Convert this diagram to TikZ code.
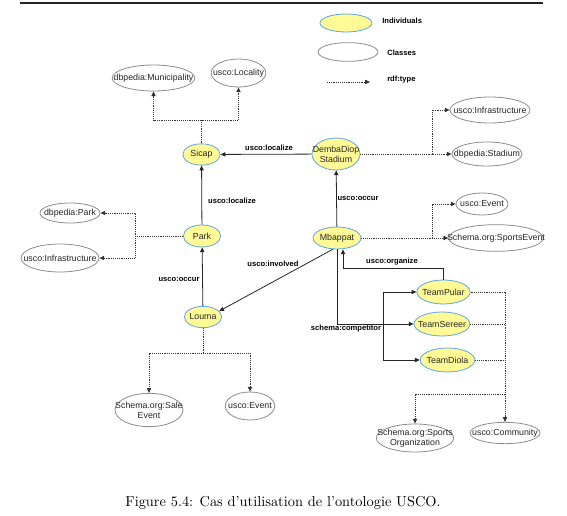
\documentclass[tikz,border=0pt]{standalone}
\usepackage{fontspec}
\newfontfamily\diagfont{Liberation Sans}
\usetikzlibrary{shapes.geometric,arrows.meta}

\definecolor{indfill}{RGB}{255,250,150}
\definecolor{indline}{RGB}{95,165,225}
\definecolor{clsline}{RGB}{140,140,140}

\tikzset{
  indiv/.style={ellipse, draw=indline, fill=indfill, line width=0.6pt, inner sep=0pt},
  classe/.style={ellipse, draw=clsline, fill=white, line width=0.6pt, inner sep=0pt},
  rel/.style={draw=black!85, line width=0.6pt, -{Triangle[length=3.6pt,width=3.2pt]}},
  dotline/.style={draw=black!80, line width=0.55pt, dash pattern=on 0.7pt off 0.7pt},
  typeof/.style={dotline, -{Triangle[length=3.6pt,width=3.2pt]}},
  lbl/.style={font=\diagfont\bfseries\fontsize{5.7}{6.5}\selectfont, inner sep=0.75pt}
}

\begin{document}
\begin{tikzpicture}[x=0.75pt,y=0.75pt,yscale=-1,xscale=1,
  every label/.append style={font=\diagfont\fontsize{6.6}{7.6}\selectfont, text=black!85, align=center, inner sep=0pt}]
\useasboundingbox (0,0) rectangle (567,516);

%Straight Lines (top rule)
\draw [line width=1.5pt, black!85] (20,3) -- (543,3) ;

% Legend
\node [indiv, minimum width=39pt, minimum height=13.5pt] (legInd) at (346,23) {};
\node [lbl, anchor=west] (legIndT) at (381,21) {Individuals};
\node [classe, minimum width=45pt, minimum height=14pt] (legCls) at (348,52) {};
\node [lbl, anchor=west] (legClsT) at (386,53) {Classes};
\coordinate (legA) at (327,82);
\coordinate (legB) at (370,82);
\draw [typeof] (legA) -- (legB) ;
\node [lbl, anchor=west] (legTypT) at (386,80) {rdf:type};

% Classes
\node [classe, minimum width=62pt, minimum height=19.5pt, label={center:dbpedia:Municipality}] (muni) at (153.5,78) {};
\node [classe, minimum width=41pt, minimum height=21pt, label={center:usco:Locality}] (loc) at (238.5,73) {};
\node [classe, minimum width=60pt, minimum height=19.5pt, label={center:usco:Infrastructure}] (infraR) at (490,110) {};
\node [classe, minimum width=52.5pt, minimum height=18pt, label={center:dbpedia:Stadium}] (stadium) at (487,154) {};
\node [classe, minimum width=45pt, minimum height=15pt, label={center:dbpedia:Park}] (dpark) at (70,213) {};
\node [classe, minimum width=58.5pt, minimum height=21pt, label={center:usco:Infrastructure}] (infraL) at (60,258) {};
\node [classe, minimum width=39pt, minimum height=16.5pt, label={center:usco:Event}] (evR) at (482,204) {};
\node [classe, minimum width=71pt, minimum height=20pt, label={center:Schema.org:SportsEvent}] (sportsEv) at (496,238) {};
\node [classe, minimum width=51pt, minimum height=25pt, label={center:Schema.org:Sale\\Event}] (sale) at (149,410) {};
\node [classe, minimum width=37pt, minimum height=21pt, label={center:usco:Event}] (evB) at (250,406) {};
\node [classe, minimum width=58pt, minimum height=21pt, label={center:Schema.org:Sports\\Organization}] (sorg) at (415,438) {};
\node [classe, minimum width=52.5pt, minimum height=16pt, label={center:usco:Community}] (comm) at (505,433) {};

% Individuals
\node [indiv, minimum width=28pt, minimum height=16pt, label={center:Sicap}] (sicap) at (201.5,154.5) {};
\node [indiv, minimum width=36pt, minimum height=24pt, label={center:DembaDiop\\Stadium}] (demba) at (336,154) {};
\node [indiv, minimum width=28pt, minimum height=16.5pt, label={center:Park}] (park) at (202,236) {};
\node [indiv, minimum width=36pt, minimum height=16.5pt, label={center:Mbappat}] (mbappat) at (337,238) {};
\node [indiv, minimum width=28pt, minimum height=16pt, label={center:Louma}] (louma) at (203,317) {};
\node [indiv, minimum width=40pt, minimum height=18pt, label={center:TeamPular}] (pular) at (443.5,292) {};
\node [indiv, minimum width=42pt, minimum height=18pt, label={center:TeamSereer}] (sereer) at (442,324) {};
\node [indiv, minimum width=41pt, minimum height=18pt, label={center:TeamDiola}] (diola) at (447.5,360) {};

% Properties
\draw [rel] (demba) -- (sicap) ;
\draw [rel] (park) -- (sicap) ;
\draw [rel] (louma) -- (park) ;
\draw [rel] (mbappat) -- (demba) ;
\draw [rel] (mbappat.250) -- (louma.20) ;
\coordinate (orgC) at (343,268);
\draw [rel] (pular.north) |- (orgC) -- (orgC |- mbappat.south) ;
\draw [rel] (mbappat.south) |- (sereer.west) ;
\coordinate (compC) at (383,324);
\draw [rel] (compC) |- (pular.west) ;
\draw [rel] (compC) |- (diola.west) ;

% Text Node
\node [lbl] (lLoc1) at (269,148) {usco:localize};
\node [lbl] (lLoc2) at (232,201) {usco:localize};
\node [lbl] (lOcc1) at (179,279) {usco:occur};
\node [lbl] (lOcc2) at (358,198) {usco:occur};
\node [lbl] (lInv) at (273,264) {usco:involved};
\node [lbl] (lOrg) at (392,262) {usco:organize};
\node [lbl] (lComp) at (346,329) {schema:competitor};

% rdf:type
\coordinate (sJ) at (201.5,120);
\draw [typeof] (sicap) -- (sJ) -| (muni) ;
\draw [typeof] (sJ) -| (loc) ;
\coordinate (dJ) at (432,154);
\draw [typeof] (demba) -- (dJ) -- (stadium) ;
\draw [typeof] (dJ) |- (infraR) ;
\coordinate (pJ) at (135,236);
\draw [typeof] (park) -- (pJ) |- (dpark) ;
\draw [typeof] (pJ) |- (infraL) ;
\coordinate (mJ) at (432,238);
\draw [typeof] (mbappat) -- (mJ) -- (sportsEv) ;
\draw [typeof] (mJ) |- (evR) ;
\coordinate (lJ) at (203,353);
\draw [typeof] (louma) -- (lJ) -| (sale) ;
\draw [typeof] (lJ) -| (evB) ;
\coordinate (tJ) at (505,394);
\draw [dotline] (pular.east) -- (pular.east -| tJ) -- (tJ) ;
\draw [dotline] (sereer) -- (sereer -| tJ) ;
\draw [dotline] (diola) -- (diola -| tJ) ;
\draw [typeof] (tJ) -| (sorg) ;
\draw [typeof] (tJ) -- (comm) ;

% Caption
\node [font=\fontsize{10.8}{13}\selectfont, inner sep=0pt] (caption) at (283,503) {Figure 5.4: Cas d'utilisation de l'ontologie USCO.};

\end{tikzpicture}
\end{document}
